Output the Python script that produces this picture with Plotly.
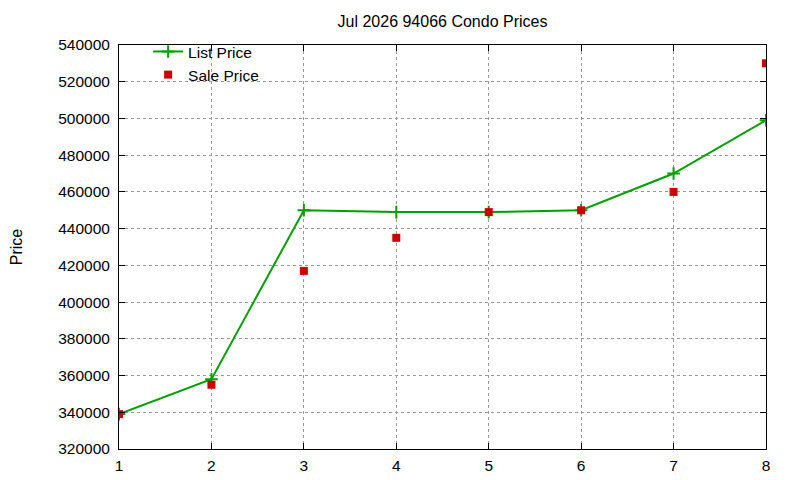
import plotly.graph_objects as go

months = [1, 2, 3, 4, 5, 6, 7, 8]
list_price = [339000, 358000, 450000, 449000, 449000, 450000, 470000, 499000]
sale_price = [339000, 355000, 417000, 435000, 449000, 450000, 460000, 530000]

font = "Liberation Sans, Arial, sans-serif"

fig = go.Figure()
fig.add_trace(go.Scatter(
    x=months, y=list_price, name="List Price", mode="lines+markers",
    line=dict(color="#00a000", width=2),
    marker=dict(symbol="cross-thin", size=9, line=dict(color="#00a000", width=2)),
))
fig.add_trace(go.Scatter(
    x=months, y=sale_price, name="Sale Price", mode="markers",
    marker=dict(symbol="square", size=8, color="#cc0000"),
))

axis = dict(
    showline=True, linecolor="black", linewidth=1, mirror="ticks",
    ticks="inside", ticklen=6, tickcolor="black",
    showgrid=True, gridcolor="#999999", griddash="dot", gridwidth=1,
    zeroline=False, automargin=False,
    tickfont=dict(family=font, size=15.5, color="black"),
)

# page is offset ~7px by the browser body margin, so margins compensate
fig.update_layout(
    width=800, height=480,
    paper_bgcolor="white", plot_bgcolor="white",
    margin=dict(l=111, r=42, t=37, b=39),
    title=dict(text="Jul 2026 94066 Condo Prices", x=0.5, xref="paper",
               xanchor="center", y=1 - 13 / 480, yref="container",
               yanchor="middle",
               font=dict(family=font, size=16, color="black")),
    xaxis=dict(axis, range=[1, 8], dtick=1, ticklabelstandoff=2),
    yaxis=dict(axis, range=[320000, 540000], dtick=20000, tickformat="d",
               ticklabelstandoff=5,
               title=dict(text="Price", standoff=35,
                          font=dict(family=font, size=16, color="black"))),
    legend=dict(x=0.045, y=1.025, xanchor="left", yanchor="top",
                bgcolor="rgba(0,0,0,0)", tracegroupgap=0,
                font=dict(family=font, size=15.5, color="black")),
)

fig.write_html("out.html")
